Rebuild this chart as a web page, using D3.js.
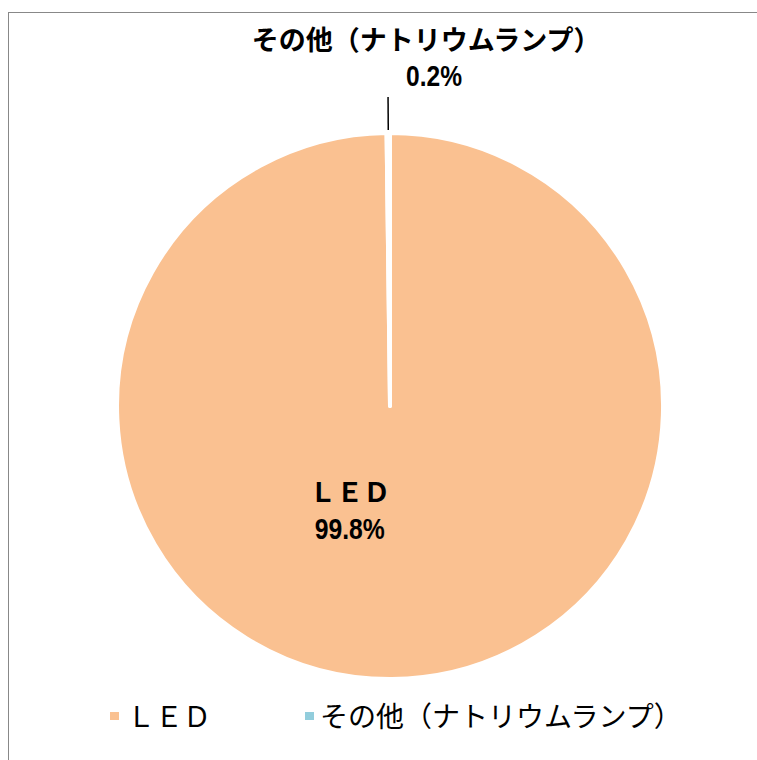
<!DOCTYPE html>
<html>
<head>
  <meta charset="utf-8">
  <title>pie</title>
  <script src="https://cdn.jsdelivr.net/npm/d3@7"></script>
  <style>
    body { margin: 0; background: #fff; }
    text { font-family: "Noto Sans CJK JP", "Noto Sans", sans-serif; }
    text.num { font-family: "Liberation Sans Narrow", "Liberation Sans", sans-serif; }
  </style>
</head>
<body>
<script>
// data
const categories = ["ＬＥＤ", "その他（ナトリウムランプ）"];
const values = [99.8, 0.2];
const valueLabels = ["99.8%", "0.2%"];
const colors = ["#FAC191", "#92CDDC"];

const W = 757, H = 760;
const cx = 390, cy = 406, r = 273;

const svg = d3.select("body").append("svg")
  .attr("width", W).attr("height", H);

// frame
svg.append("rect")
  .attr("x", 8.5).attr("y", 12.5)
  .attr("width", W + 10).attr("height", H + 10)
  .attr("fill", "none").attr("stroke", "#888").attr("stroke-width", 1);

const pie = d3.pie().sort(null).value(d => d);
const arcs = pie(values);
const arc = d3.arc().innerRadius(0).outerRadius(r);

const g = svg.append("g").attr("transform", "translate(" + cx + "," + cy + ")");

g.selectAll("path")
  .data(arcs)
  .enter()
  .append("path")
  .attr("d", arc)
  .attr("fill", (d, i) => colors[i])
  .attr("stroke", "#fff")
  .attr("stroke-width", 4)
  .attr("stroke-linejoin", "round");

// small slice label with leader line
const small = arcs[1];
const p0 = d3.arc().innerRadius(r + 3).outerRadius(r + 3).centroid(small);
const p1 = d3.arc().innerRadius(r + 36).outerRadius(r + 36).centroid(small);
g.append("line")
  .attr("x1", p0[0]).attr("y1", p0[1])
  .attr("x2", p1[0]).attr("y2", p1[1])
  .attr("stroke", "#000").attr("stroke-width", 1.5);

g.append("text")
  .attr("x", p1[0] + 38).attr("y", p1[1] - 47)
  .attr("text-anchor", "middle")
  .attr("font-size", 27).attr("font-weight", "bold")
  .text(categories[1]);
g.append("text")
  .attr("class", "num")
  .attr("x", p1[0] + 46).attr("y", p1[1] - 11)
  .attr("text-anchor", "middle")
  .attr("font-size", 30).attr("font-weight", "bold")
  .attr("textLength", 56).attr("lengthAdjust", "spacingAndGlyphs")
  .text(valueLabels[1]);

// big slice label
const big = arcs[0];
const c = d3.arc().innerRadius(0).outerRadius(r * 0.78).centroid(big);
g.append("text")
  .attr("x", c[0] - 41).attr("y", c[1] - 10)
  .attr("text-anchor", "middle")
  .attr("font-size", 27).attr("font-weight", "bold")
  .text(categories[0]);
g.append("text")
  .attr("class", "num")
  .attr("x", c[0] - 41).attr("y", c[1] + 27)
  .attr("text-anchor", "middle")
  .attr("font-size", 30).attr("font-weight", "bold")
  .attr("textLength", 70).attr("lengthAdjust", "spacingAndGlyphs")
  .text(valueLabels[0]);

// legend
const legendX = [110, 305];
const legend = svg.append("g");
categories.forEach((name, i) => {
  legend.append("rect")
    .attr("x", legendX[i]).attr("y", 712)
    .attr("width", 9).attr("height", 8)
    .attr("fill", colors[i]);
  legend.append("text")
    .attr("x", legendX[i] + (i === 0 ? 17 : 15)).attr("y", 727)
    .attr("font-size", 28)
    .text(name);
});
</script>
</body>
</html>
